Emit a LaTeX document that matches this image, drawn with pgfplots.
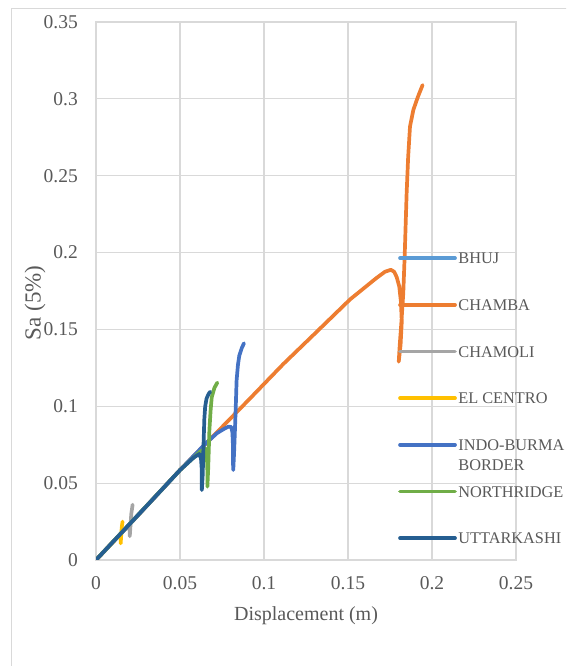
\documentclass[border=0pt]{standalone}
\usepackage{pgfplots}
\pgfplotsset{compat=1.18}
\usepackage{fontspec}
\setmainfont{Liberation Serif}
\definecolor{cBhuj}{HTML}{5B9BD5}
\definecolor{cChamba}{HTML}{ED7D31}
\definecolor{cChamoli}{HTML}{A5A5A5}
\definecolor{cElCentro}{HTML}{FFC000}
\definecolor{cIndo}{HTML}{4472C4}
\definecolor{cNorth}{HTML}{70AD47}
\definecolor{cUttar}{HTML}{255E91}
\definecolor{cGrid}{HTML}{D9D9D9}
\definecolor{cText}{HTML}{595959}
\begin{document}
\begin{tikzpicture}[x=1pt,y=1pt]
\useasboundingbox (0,0) rectangle (566,666);
\clip (0,0) rectangle (566,666);
\draw[cGrid, line width=1pt] (11,-10) -- (11,657) -- (600,657);
\begin{axis}[
  at={(96pt,106pt)}, anchor=south west,
  scale only axis, width=420pt, height=538pt,
  xmin=0, xmax=0.25, ymin=0, ymax=0.35,
  xtick={0,0.05,0.1,0.15,0.2,0.25},
  xticklabels={0,0.05,0.1,0.15,0.2,0.25},
  ytick={0,0.05,0.1,0.15,0.2,0.25,0.3,0.35},
  yticklabels={0,0.05,0.1,0.15,0.2,0.25,0.3,0.35},
  scaled ticks=false,
  major tick length=0pt,
  grid=major,
  grid style={cGrid, line width=1.2pt},
  axis line style={cGrid, line width=1.2pt},
  tick label style={font=\fontsize{19.5}{22}\selectfont, text=cText},
  xticklabel style={anchor=north, inner sep=0pt, yshift=-16.5pt},
  yticklabel style={anchor=east, inner sep=0pt, xshift=-18pt},
  xlabel={Displacement (m)}, ylabel={Sa (5\%)},
  every axis x label/.style={at={(axis description cs:0.5,0)}, anchor=base, yshift=-60pt, font=\fontsize{20}{24}\selectfont, text=cText},
  every axis y label/.style={at={(axis description cs:-0.145,0.478)}, rotate=90, anchor=center, font=\fontsize{23}{27}\selectfont, text=cText},
  legend style={at={(axis description cs:0.719,0.5753)}, anchor=north west, draw=none, fill=none, inner sep=0pt, row sep=31.67pt, column sep=1.5pt, font=\fontsize{16.3}{20}\selectfont, nodes={inner sep=0pt, text height=13pt, text depth=2pt, text=cText}},
  legend cell align=left,
  legend image code/.code={\draw[#1, line cap=round] (0pt,0pt) -- (55pt,0pt);},
  every axis plot/.append style={line width=3.7pt, line join=round, line cap=round, no markers},
]
\addplot[color=cBhuj] coordinates {(0,0) (0.02,0.0232) (0.04,0.0466) (0.05,0.0585)};
\addlegendentry{BHUJ}
\addplot[color=cChamba] coordinates {
(0,0) (0.02,0.0232) (0.05,0.0585) (0.0917,0.1051) (0.1,0.1145) (0.1115,0.1275)
(0.1314,0.1485) (0.1512,0.1695) (0.167,0.1835) (0.172,0.1875) (0.1755,0.1888)
(0.1775,0.1875) (0.179,0.184) (0.1805,0.178) (0.1815,0.168) (0.182,0.155)
(0.1813,0.140) (0.1802,0.129) (0.1808,0.140) (0.1818,0.155) (0.1829,0.1735)
(0.1838,0.200) (0.1849,0.2386) (0.1858,0.262) (0.1869,0.282) (0.1889,0.2928)
(0.1915,0.301) (0.1944,0.309)};
\addlegendentry{CHAMBA}
\addplot[color=cChamoli] coordinates {
(0,0) (0.01,0.0116) (0.0198,0.023) (0.0200,0.019) (0.0201,0.0155) (0.0205,0.022)
(0.021,0.030) (0.0218,0.036)};
\addlegendentry{CHAMOLI}
\addplot[color=cElCentro] coordinates {
(0,0) (0.01,0.0116) (0.0145,0.0168) (0.0147,0.0135) (0.0147,0.0108) (0.015,0.016)
(0.0153,0.021) (0.0158,0.025)};
\addlegendentry{EL CENTRO}
\addplot[color=cIndo] coordinates {
(0,0) (0.05,0.0585) (0.065,0.0755) (0.072,0.0825) (0.0765,0.0855) (0.079,0.0868)
(0.0805,0.0865) (0.0812,0.083) (0.0815,0.075) (0.0815,0.065) (0.0817,0.0585)
(0.0822,0.070) (0.0827,0.0845) (0.0832,0.100) (0.0837,0.117) (0.0845,0.127)
(0.0853,0.133) (0.0868,0.138) (0.0881,0.141)};
\addlegendentry{\smash{\begin{tabular}[t]{@{}l@{}}INDO-BURMA\\BORDER\end{tabular}}}
\addplot[color=cNorth] coordinates {
(0,0) (0.05,0.0585) (0.062,0.0705) (0.0652,0.0725) (0.0660,0.068) (0.0663,0.058)
(0.0663,0.0477) (0.0668,0.060) (0.0675,0.0845) (0.0682,0.097) (0.0689,0.106)
(0.0705,0.112) (0.0722,0.1154)};
\addlegendentry{NORTHRIDGE}
\addplot[color=cUttar] coordinates {
(0,0) (0.03,0.035) (0.05,0.0585) (0.058,0.0665) (0.0615,0.069) (0.0625,0.066)
(0.063,0.058) (0.063,0.0455) (0.0635,0.055) (0.064,0.075) (0.0645,0.092)
(0.065,0.100) (0.0658,0.105) (0.067,0.108) (0.068,0.1095)};
\addlegendentry{UTTARKASHI}
\end{axis}
\end{tikzpicture}
\end{document}
